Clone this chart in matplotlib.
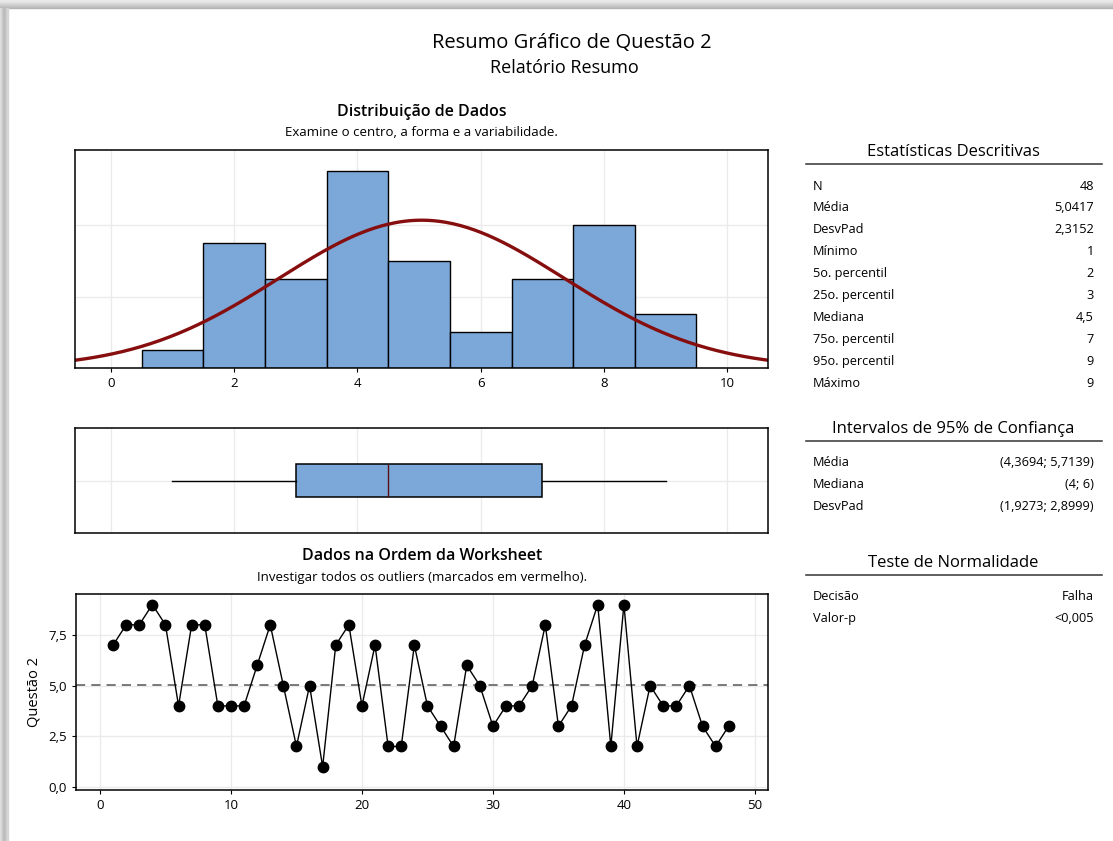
import numpy as np
import matplotlib
matplotlib.use("Agg")
import matplotlib.pyplot as plt
from matplotlib.patches import Rectangle

plt.rcParams['font.family'] = ['Open Sans', 'Noto Sans', 'DejaVu Sans']

# dados da Questão 2, na ordem da worksheet
questao2 = [7, 8, 8, 9, 8, 4, 8, 8, 4, 4, 4, 6, 8, 5, 2, 5, 1, 7, 8, 4, 7, 2, 2, 7,
            4, 3, 2, 6, 5, 3, 4, 4, 5, 8, 3, 4, 7, 9, 2, 9, 2, 5, 4, 4, 5, 3, 2, 3]

desc_labels = ["N", "Média", "DesvPad", "Mínimo", "5o. percentil", "25o. percentil",
               "Mediana", "75o. percentil", "95o. percentil", "Máximo"]
desc_values = ["48", "5,0417", "2,3152", "1", "2", "3", "4,5", "7", "9", "9"]

ic_labels = ["Média", "Mediana", "DesvPad"]
ic_values = ["(4,3694; 5,7139)", "(4; 6)", "(1,9273; 2,8999)"]

norm_labels = ["Decisão", "Valor-p"]
norm_values = ["Falha", "<0,005"]

W, H = 1113, 841
AZUL = "#7BA7D9"
VERMELHO = "#860E0E"
GRADE = "#EBEBEB"

fig = plt.figure(figsize=(W / 100, H / 100), dpi=100)


def ax_px(x0, y0, x1, y1):
    return fig.add_axes([x0 / W, 1 - y1 / H, (x1 - x0) / W, (y1 - y0) / H])


def txt(x, y, s, **kw):
    fig.text(x / W, 1 - y / H, s, va="center", **kw)


# sombra da janela (bordas cinza)
for i in range(8):
    c = str(0.70 + i * 0.03)
    fig.patches.append(Rectangle((0, 1 - (8 - i) / H), 1, 1 / H, transform=fig.transFigure,
                                 color=c, zorder=-5))
    fig.patches.append(Rectangle((i / W, 0), 1 / W, 1 - 8 / H, transform=fig.transFigure,
                                 color=str(0.72 + abs(i - 4) * 0.04), zorder=-5))

# títulos
txt(572, 43, "Resumo Gráfico de Questão 2", ha="center", fontsize=14.5)
txt(564, 68, "Relatório Resumo", ha="center", fontsize=13)

txt(422, 112, "Distribuição de Dados", ha="center", fontsize=11.5, fontweight="semibold")
txt(421, 133, "Examine o centro, a forma e a variabilidade.", ha="center", fontsize=9.5)
txt(422, 556, "Dados na Ordem da Worksheet", ha="center", fontsize=11.5, fontweight="semibold")
txt(422, 578, "Investigar todos os outliers (marcados em vermelho).", ha="center", fontsize=9.5)


def estilo(ax):
    for s in ax.spines.values():
        s.set_linewidth(1.1)
        s.set_color("black")
    ax.set_axisbelow(True)
    ax.grid(True, color=GRADE, lw=1)


# histograma
dados = np.array(questao2)
ax1 = ax_px(75, 150, 768, 368)
bins = np.arange(0.5, 10.5, 1)
ax1.hist(dados, bins=bins, color=AZUL, edgecolor="black", linewidth=1)
xs = np.linspace(-0.6, 10.7, 300)
m, sd = dados.mean(), dados.std(ddof=1)
curva = len(dados) * 1.0 / (sd * np.sqrt(2 * np.pi)) * np.exp(-0.5 * ((xs - m) / sd) ** 2)
ax1.plot(xs, curva, color=VERMELHO, lw=2.4)
ax1.set_xlim(-0.58, 10.66)
ax1.set_ylim(0, 12.2)
ax1.set_xticks(range(0, 11, 2))
ax1.set_yticks([4, 8])
ax1.tick_params(axis="y", left=False, labelleft=False)
ax1.tick_params(axis="x", labelsize=9.5, length=3)
estilo(ax1)

# boxplot
ax2 = ax_px(75, 428, 768, 533)
ax2.boxplot(dados, vert=False, whis=(0, 100), widths=0.32, positions=[0.5], patch_artist=True,
            showcaps=False, showfliers=False,
            boxprops=dict(facecolor=AZUL, edgecolor="black", lw=1.1),
            medianprops=dict(color="#5a1010", lw=1),
            whiskerprops=dict(color="black", lw=1))
ax2.set_xlim(-0.58, 10.66)
ax2.set_ylim(0, 1)
ax2.set_xticks(range(0, 11, 2))
ax2.set_yticks([0.5])
ax2.tick_params(left=False, bottom=False, labelleft=False, labelbottom=False)
estilo(ax2)

# dados na ordem
ax3 = ax_px(76, 594, 768, 790)
ordem = np.arange(1, len(dados) + 1)
ax3.axhline(m, color="#555555", lw=1.1, ls=(0, (6, 4)))
ax3.plot(ordem, dados, color="black", lw=1, marker="o", markersize=7.5)
ax3.set_xlim(-1.83, 51)
ax3.set_ylim(-0.15, 9.52)
ax3.set_xticks(range(0, 51, 10))
ax3.set_yticks([0, 2.5, 5, 7.5])
ax3.set_yticklabels(["0,0", "2,5", "5,0", "7,5"])
ax3.set_ylabel("Questão 2", fontsize=10.5, labelpad=5)
ax3.tick_params(labelsize=9.5, length=3)
estilo(ax3)


# tabelas da direita
def tabela(y_tit, titulo, labels, values):
    txt(953, y_tit, titulo, ha="center", fontsize=12)
    fig.add_artist(plt.Line2D([806 / W, 1102 / W], [1 - (y_tit + 12) / H] * 2, color="#333333", lw=1.1))
    for i, (lab, val) in enumerate(zip(labels, values)):
        y = y_tit + 34 + i * 21.9
        txt(813, y, lab, ha="left", fontsize=9.2)
        txt(1094, y, val, ha="right", fontsize=9.2)


tabela(152, "Estatísticas Descritivas", desc_labels, desc_values)
tabela(429, "Intervalos de 95% de Confiança", ic_labels, ic_values)
tabela(563, "Teste de Normalidade", norm_labels, norm_values)

fig.savefig("out.png", dpi=100)
